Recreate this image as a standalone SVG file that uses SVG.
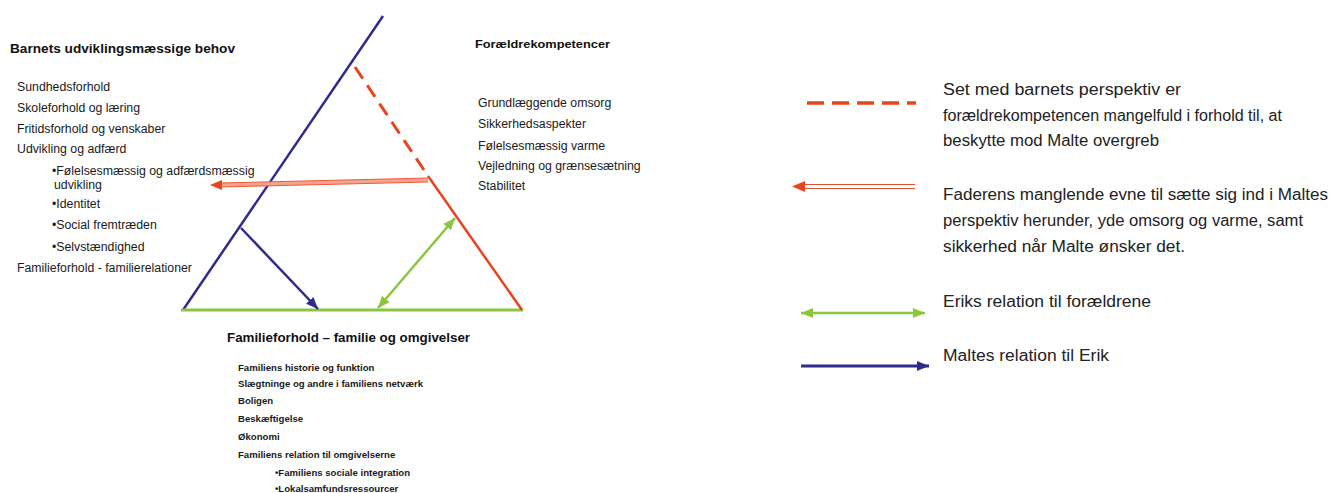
<svg xmlns="http://www.w3.org/2000/svg" width="1338" height="493" viewBox="0 0 1338 493">
<style>
.h{font-family:"Liberation Sans",Arial,sans-serif;font-weight:bold;fill:#111}
.t{font-family:"Liberation Sans",Arial,sans-serif;fill:#1a1a1a;font-size:12.3px}
.s{font-family:"Liberation Sans",Arial,sans-serif;font-weight:bold;fill:#1a1a1a;font-size:9.6px}
.l{font-family:"Liberation Sans",Arial,sans-serif;fill:#222;font-size:16px}
.blue{stroke:#2f2b8c;fill:none}
.green{stroke:#8cc63e;fill:none}
.red{stroke:#e9441e;fill:none}
</style>
<defs>
<marker id="ab" markerUnits="userSpaceOnUse" markerWidth="14" markerHeight="12" refX="12" refY="6" orient="auto"><path d="M0,1 L12,6 L0,11 Z" fill="#2f2b8c"/></marker>
<marker id="ag" markerUnits="userSpaceOnUse" markerWidth="14" markerHeight="12" refX="12" refY="6" orient="auto-start-reverse"><path d="M0,1 L12,6 L0,11 Z" fill="#8cc63e"/></marker>
</defs>
<rect width="1338" height="493" fill="#fff"/>

<g id="connectors">
<line class="blue" x1="183" y1="310" x2="383" y2="16" stroke-width="2.5"/>
<line class="green" x1="181" y1="310" x2="523" y2="310" stroke-width="3"/>
<line class="red" x1="428" y1="176" x2="522" y2="310" stroke-width="2.5"/>
<line class="red" x1="355" y1="67" x2="428" y2="176" stroke-width="3" stroke-dasharray="14 8"/>
<g id="red-double-arrow">
<line x1="428" y1="180" x2="220" y2="185" stroke="#f4a48c" stroke-width="4"/>
<line x1="428" y1="178" x2="220" y2="183" stroke="#ec5a38" stroke-width="1"/>
<line x1="428" y1="182" x2="220" y2="187" stroke="#ec5a38" stroke-width="1"/>
<path d="M210,185 L222,180 L222,190 Z" fill="#e9441e"/>
</g>
<line class="blue" x1="241" y1="228" x2="318" y2="309" stroke-width="2.5" marker-end="url(#ab)"/>
<line class="green" x1="455" y1="218" x2="378" y2="308" stroke-width="2.5" marker-start="url(#ag)" marker-end="url(#ag)"/>
</g>

<g id="node-barnet">
<text class="h" x="10" y="53" font-size="12" textLength="225" lengthAdjust="spacingAndGlyphs">Barnets udviklingsmæssige behov</text>
<text class="t" x="17" y="91">Sundhedsforhold</text>
<text class="t" x="17" y="112">Skoleforhold og læring</text>
<text class="t" x="17" y="133">Fritidsforhold og venskaber</text>
<text class="t" x="17" y="153">Udvikling og adfærd</text>
<text class="t" x="52" y="175">•Følelsesmæssig og adfærdsmæssig</text>
<text class="t" x="54" y="189">udvikling</text>
<text class="t" x="52" y="208">•Identitet</text>
<text class="t" x="52" y="229">•Social fremtræden</text>
<text class="t" x="52" y="251">•Selvstændighed</text>
<text class="t" x="17" y="272">Familieforhold - familierelationer</text>
</g>

<g id="node-foraeldre">
<text class="h" x="475" y="48" font-size="11.5" textLength="135" lengthAdjust="spacingAndGlyphs">Forældrekompetencer</text>
<text class="t" x="478" y="107">Grundlæggende omsorg</text>
<text class="t" x="478" y="128">Sikkerhedsaspekter</text>
<text class="t" x="478" y="150">Følelsesmæssig varme</text>
<text class="t" x="478" y="170">Vejledning og grænsesætning</text>
<text class="t" x="478" y="190">Stabilitet</text>
</g>

<g id="node-familie">
<text class="h" x="227" y="342" font-size="12" textLength="243" lengthAdjust="spacingAndGlyphs">Familieforhold – familie og omgivelser</text>
<text class="s" x="238" y="371">Familiens historie og funktion</text>
<text class="s" x="238" y="387">Slægtninge og andre i familiens netværk</text>
<text class="s" x="238" y="404">Boligen</text>
<text class="s" x="238" y="422">Beskæftigelse</text>
<text class="s" x="238" y="440">Økonomi</text>
<text class="s" x="238" y="458">Familiens relation til omgivelserne</text>
<text class="s" x="275" y="476">•Familiens sociale integration</text>
<text class="s" x="275" y="492">•Lokalsamfundsressourcer</text>
</g>

<g id="legend">
<line class="red" x1="807" y1="103" x2="916" y2="103" stroke-width="3.5" stroke-dasharray="17 8"/>
<text class="l" x="943" y="95" textLength="238" lengthAdjust="spacingAndGlyphs">Set med barnets perspektiv er</text>
<text class="l" x="943" y="121" textLength="339" lengthAdjust="spacingAndGlyphs">forældrekompetencen mangelfuld i forhold til, at</text>
<text class="l" x="943" y="146" textLength="216" lengthAdjust="spacingAndGlyphs">beskytte mod Malte overgreb</text>

<line x1="803" y1="184.5" x2="915" y2="184.5" stroke="#d9532f" stroke-width="1.2"/>
<line x1="803" y1="188.5" x2="915" y2="188.5" stroke="#d9532f" stroke-width="1.2"/>
<path d="M792,186.5 L805,181 L805,192 Z" fill="#e9441e"/>
<text class="l" x="943" y="200" textLength="385" lengthAdjust="spacingAndGlyphs">Faderens manglende evne til sætte sig ind i Maltes</text>
<text class="l" x="943" y="226" textLength="360" lengthAdjust="spacingAndGlyphs">perspektiv herunder, yde omsorg og varme, samt</text>
<text class="l" x="943" y="252" textLength="242" lengthAdjust="spacingAndGlyphs">sikkerhed når Malte ønsker det.</text>

<line class="green" x1="801" y1="313" x2="925" y2="313" stroke-width="2.5" marker-start="url(#ag)" marker-end="url(#ag)"/>
<text class="l" x="943" y="307" textLength="208" lengthAdjust="spacingAndGlyphs">Eriks relation til forældrene</text>

<line class="blue" x1="801" y1="366" x2="929" y2="366" stroke-width="3" marker-end="url(#ab)"/>
<text class="l" x="943" y="361" textLength="166" lengthAdjust="spacingAndGlyphs">Maltes relation til Erik</text>
</g>
</svg>
